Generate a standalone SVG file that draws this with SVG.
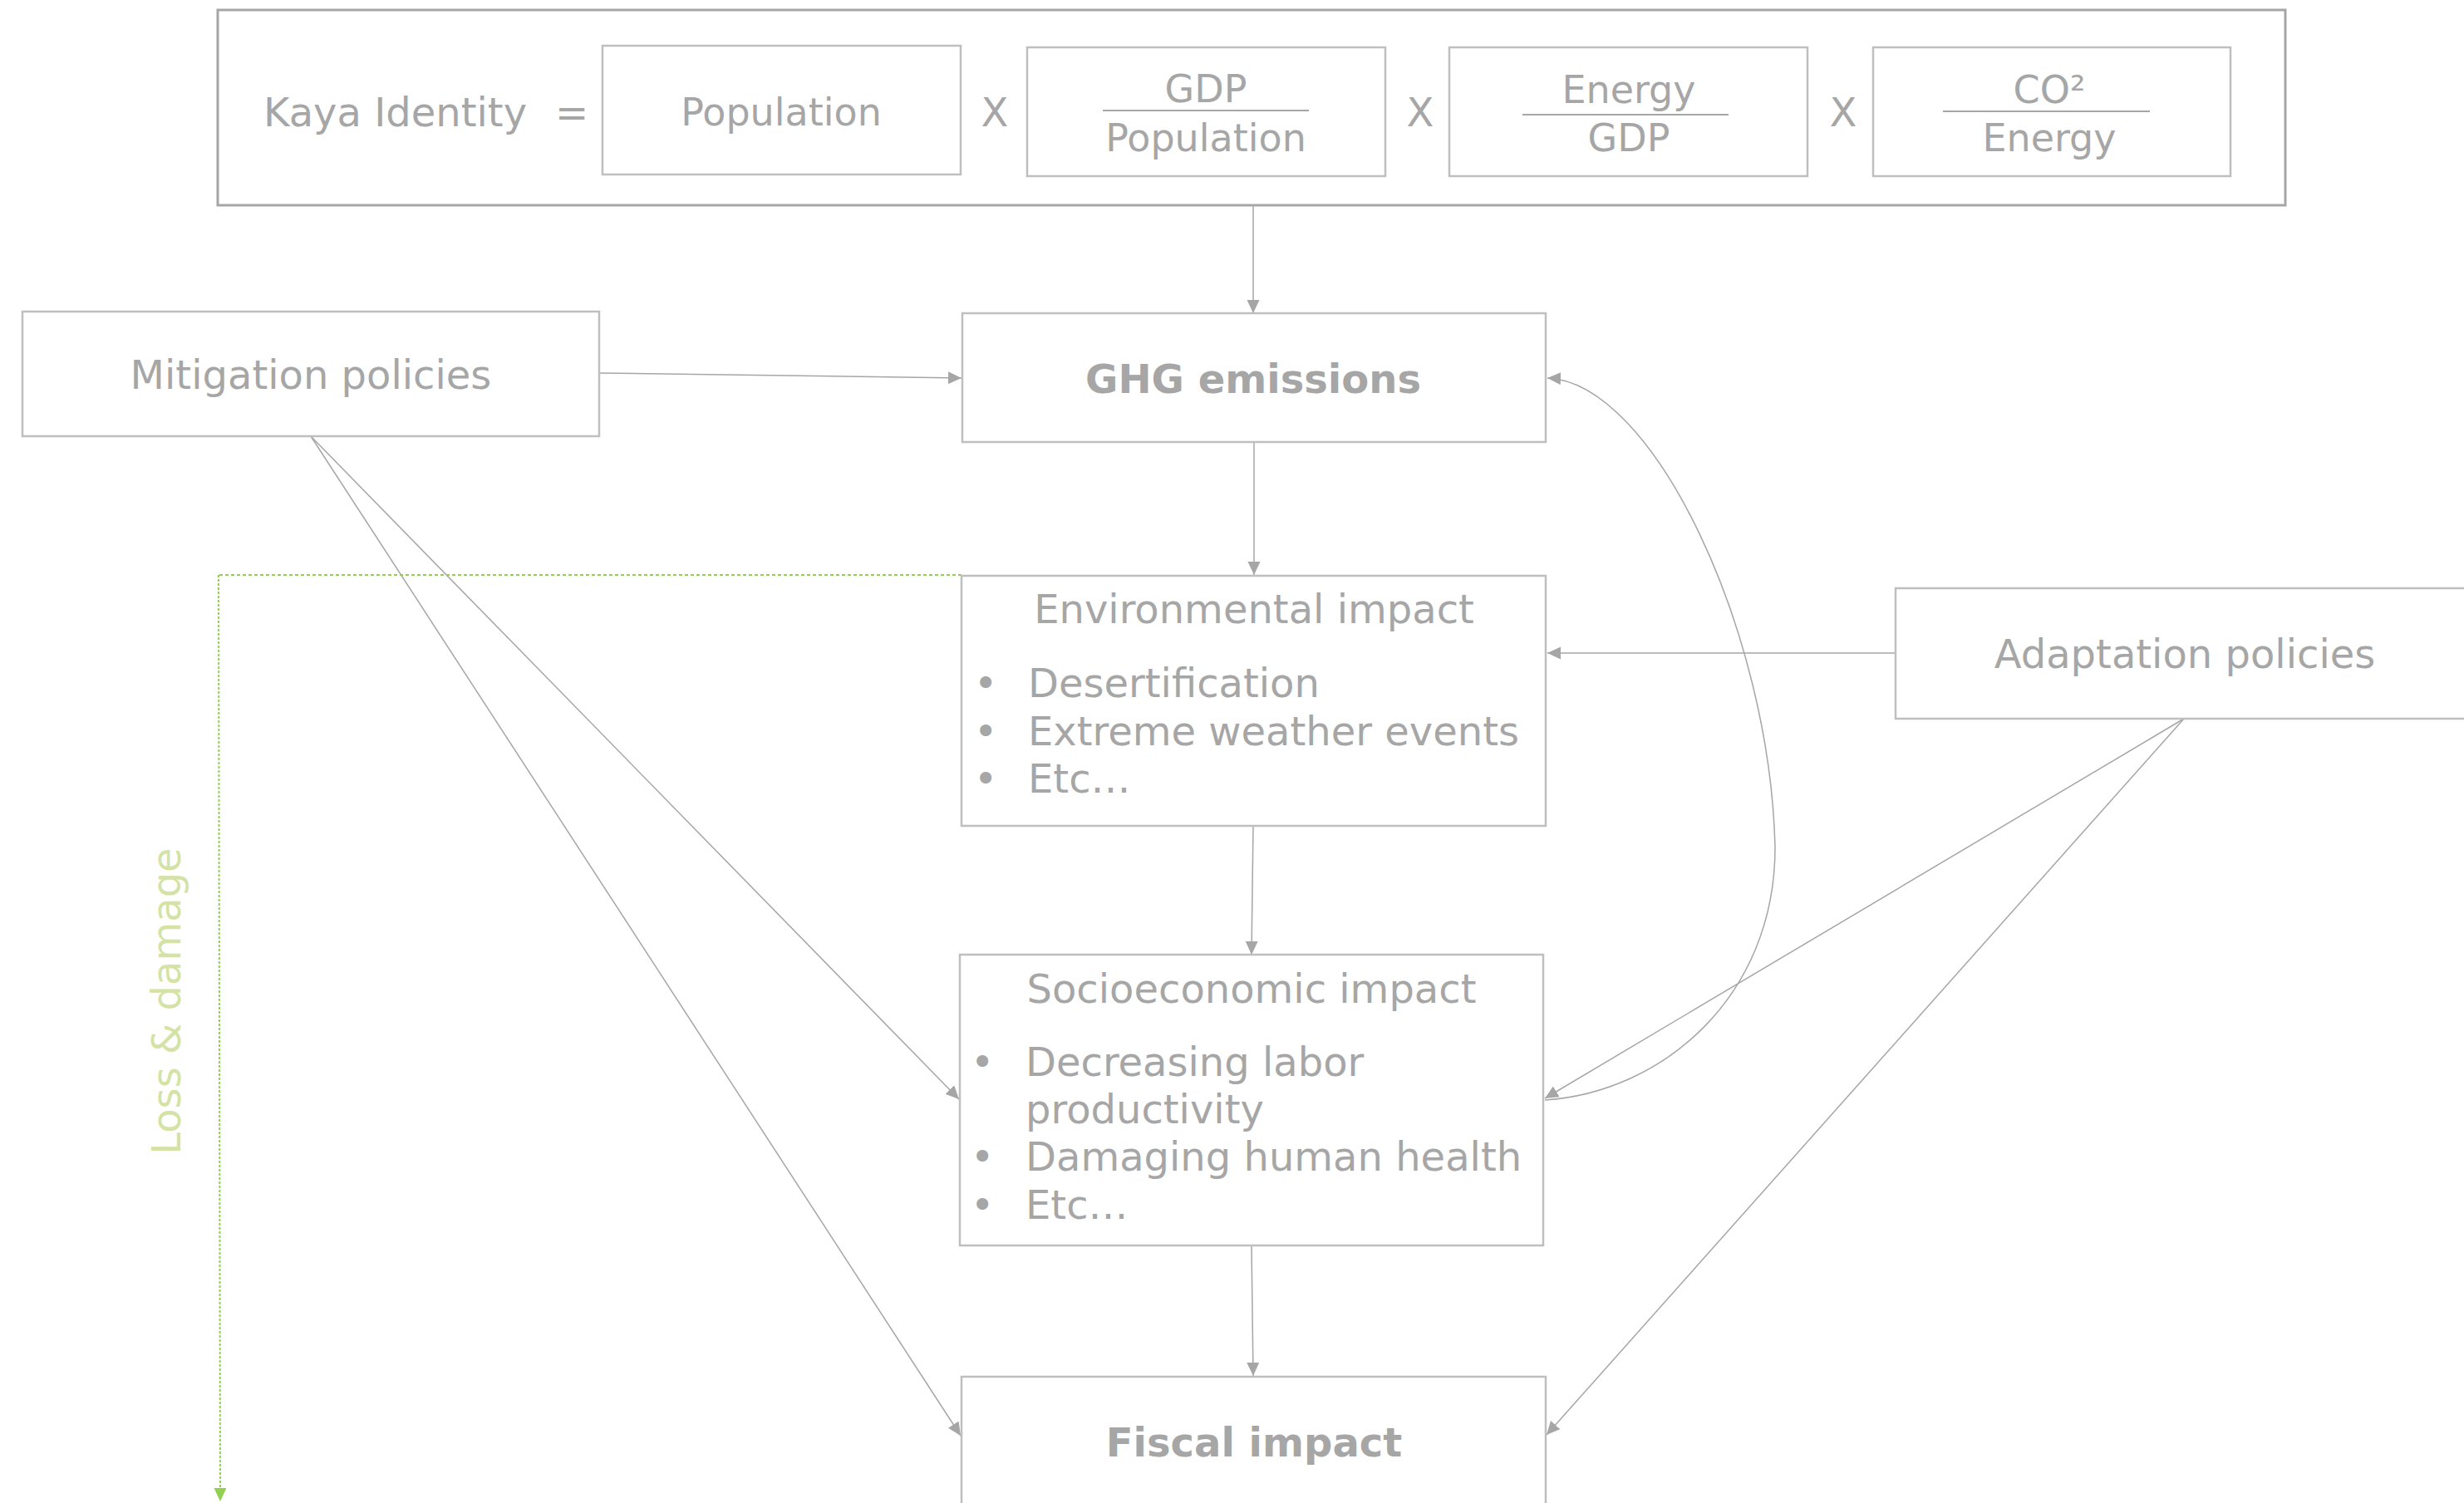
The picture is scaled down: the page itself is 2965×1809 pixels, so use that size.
<svg xmlns="http://www.w3.org/2000/svg" width="2965" height="1809" viewBox="0 0 2965 1809">
<style>
  text { font-family: "DejaVu Sans", Verdana, sans-serif; fill: #A6A6A6; font-size: 48px; }
  .c { text-anchor: middle; }
  .b { font-weight: bold; }
  .f { font-size: 46px; }
  .box { fill: #FFFFFF; stroke: #BFBFBF; stroke-width: 2.5; }
  .outer { fill: none; stroke: #A6A6A6; stroke-width: 3; }
  .frac { stroke: #A6A6A6; stroke-width: 2; }
  .conn { fill: none; stroke: #A6A6A6; stroke-width: 1.5; }
  .green { fill: none; stroke: #92D050; stroke-width: 2; }
  .lossText { fill: #D4E3A5; }
</style>
<defs>
  <marker id="ah" markerUnits="userSpaceOnUse" markerWidth="18" markerHeight="16" refX="16" refY="7.5" orient="auto">
    <path d="M0,0 L16,7.5 L0,15 Z" fill="#A6A6A6"/>
  </marker>
  <marker id="ahg" markerUnits="userSpaceOnUse" markerWidth="18" markerHeight="16" refX="16" refY="7.5" orient="auto">
    <path d="M0,0 L16,7.5 L0,15 Z" fill="#92D050"/>
  </marker>
</defs>
<rect width="2965" height="1809" fill="#FFFFFF"/>

<g id="connectors">
  <line class="conn" x1="1508" y1="247" x2="1508" y2="377" marker-end="url(#ah)"/>
  <line class="conn" x1="721" y1="449" x2="1157" y2="455" marker-end="url(#ah)"/>
  <line class="conn" x1="1509" y1="533" x2="1509" y2="692" marker-end="url(#ah)"/>
  <line class="conn" x1="1508" y1="994" x2="1506" y2="1149" marker-end="url(#ah)"/>
  <line class="conn" x1="1506" y1="1499" x2="1508" y2="1656" marker-end="url(#ah)"/>
  <line class="conn" x1="2281" y1="786" x2="1862" y2="786" marker-end="url(#ah)"/>
  <line class="conn" x1="374" y1="525" x2="1154" y2="1323" marker-end="url(#ah)"/>
  <line class="conn" x1="374" y1="525" x2="1156" y2="1728" marker-end="url(#ah)"/>
  <line class="conn" x1="2628" y1="865" x2="1859" y2="1322" marker-end="url(#ah)"/>
  <line class="conn" x1="2628" y1="865" x2="1861" y2="1727" marker-end="url(#ah)"/>
  <path class="conn" d="M1859,1324 C2000,1315 2136,1200 2136,1020 C2130,760 1990,460 1862,455" marker-end="url(#ah)"/>
  <path class="green" d="M1157,692 L263,692" stroke-dasharray="4,3"/>
  <path class="green" d="M263,692 L265,1807" stroke-dasharray="3,2" marker-end="url(#ahg)"/>
</g>

<g id="kaya">
  <rect class="outer" x="262" y="12" width="2488" height="235"/>
  <text x="317" y="152">Kaya Identity</text>
  <text class="c" x="688" y="152">=</text>
  <g id="kaya-population">
    <rect class="box" x="725" y="55" width="431" height="155"/>
    <text class="c f" x="940" y="151">Population</text>
  </g>
  <text class="c" x="1197" y="152">X</text>
  <g id="kaya-gdp-pop">
    <rect class="box" x="1236" y="57" width="431" height="155"/>
    <text class="c f" x="1451" y="123">GDP</text>
    <line class="frac" x1="1327" y1="133" x2="1575" y2="133"/>
    <text class="c f" x="1451" y="182">Population</text>
  </g>
  <text class="c" x="1709" y="152">X</text>
  <g id="kaya-energy-gdp">
    <rect class="box" x="1744" y="57" width="431" height="155"/>
    <text class="c f" x="1960" y="124">Energy</text>
    <line class="frac" x1="1832" y1="138" x2="2080" y2="138"/>
    <text class="c f" x="1960" y="182">GDP</text>
  </g>
  <text class="c" x="2218" y="152">X</text>
  <g id="kaya-co2-energy">
    <rect class="box" x="2254" y="57" width="430" height="155"/>
    <text class="c f" x="2466" y="124">CO²</text>
    <line class="frac" x1="2338" y1="134" x2="2587" y2="134"/>
    <text class="c f" x="2466" y="182">Energy</text>
  </g>
</g>

<g id="mitigation">
  <rect class="box" x="27" y="375" width="694" height="150"/>
  <text class="c" x="374" y="468">Mitigation policies</text>
</g>

<g id="ghg">
  <rect class="box" x="1158" y="377" width="702" height="155"/>
  <text class="c b" x="1508" y="473">GHG emissions</text>
</g>

<g id="environmental">
  <rect class="box" x="1157" y="693" width="703" height="301"/>
  <text class="c" x="1509" y="750">Environmental impact</text>
  <text x="1172" y="839">•</text><text x="1237" y="839">Desertification</text>
  <text x="1172" y="897">•</text><text x="1237" y="897">Extreme weather events</text>
  <text x="1172" y="954">•</text><text x="1237" y="954">Etc…</text>
</g>

<g id="adaptation">
  <rect class="box" x="2281" y="708" width="720" height="157"/>
  <text class="c" x="2629" y="804">Adaptation policies</text>
</g>

<g id="socioeconomic">
  <rect class="box" x="1155" y="1149" width="702" height="350"/>
  <text class="c" x="1506" y="1207">Socioeconomic impact</text>
  <text x="1168" y="1295">•</text><text x="1234" y="1295">Decreasing labor</text>
  <text x="1234" y="1352">productivity</text>
  <text x="1168" y="1409">•</text><text x="1234" y="1409">Damaging human health</text>
  <text x="1168" y="1467">•</text><text x="1234" y="1467">Etc…</text>
</g>

<g id="fiscal">
  <rect class="box" x="1157" y="1657" width="703" height="180"/>
  <text class="c b" x="1509" y="1753">Fiscal impact</text>
</g>

<g id="loss-damage">
  <text class="lossText c" transform="translate(217,1205) rotate(-90)">Loss &amp; damage</text>
</g>
</svg>
